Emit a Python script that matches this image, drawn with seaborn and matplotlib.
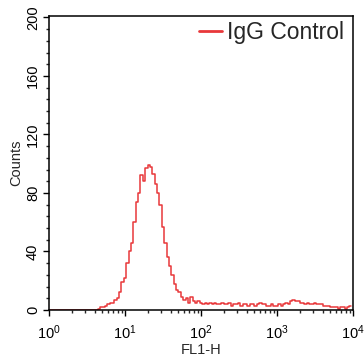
import numpy as np
import pandas as pd
import matplotlib
matplotlib.use("Agg")
import matplotlib.pyplot as plt
from matplotlib.ticker import MultipleLocator, LogLocator, NullFormatter
import seaborn as sns

# ---- data (histogram counts per log channel, 32 channels per decade) ----
channels_per_decade = 32
counts = [
    0, 0, 0, 0, 0, 0, 0, 0, 0, 0,
    0, 0, 0, 0, 0, 0, 0, 0, 0, 0,
    0, 1, 2, 2, 3, 4, 5, 5, 7, 8,
    12, 19, 22, 32, 40, 46, 60, 74, 80, 92,
    88, 97, 99, 98, 93, 86, 80, 72, 57, 46,
    36, 30, 24, 18, 14, 12, 9, 7, 8, 5,
    9, 6, 5, 6, 5, 4, 5, 4, 5, 4,
    5, 4, 4, 5, 4, 4, 5, 3, 4, 4,
    5, 3, 4, 4, 3, 4, 4, 3, 4, 5,
    4, 4, 3, 3, 4, 3, 3, 4, 3, 4,
    5, 4, 6, 7, 6, 6, 5, 5, 4, 5,
    4, 4, 5, 4, 4, 4, 3, 3, 3, 2,
    2, 2, 1, 2, 2, 1, 2, 3,
]
fl1_h = 10 ** (np.arange(len(counts)) / channels_per_decade)
series_label = "IgG Control"
x_label = "FL1-H"
y_label = "Counts"
y_ticks = [0, 40, 80, 120, 160, 200]
x_ticks = [1, 10, 100, 1000, 10000]
x_tick_labels = [r"$10^0$", r"$10^1$", r"$10^2$", r"$10^3$", r"$10^4$"]

df = pd.DataFrame({"FL1-H": fl1_h, "Counts": counts, "series": series_label})

sns.set_style("ticks")
plt.rcParams["font.family"] = ["Liberation Sans", "DejaVu Sans"]
plt.rcParams["mathtext.fontset"] = "custom"
plt.rcParams["mathtext.rm"] = "Liberation Sans"
plt.rcParams["mathtext.it"] = "Liberation Sans"
plt.rcParams["mathtext.default"] = "regular"

fig = plt.figure(figsize=(3.64, 3.64), dpi=100)
ax = fig.add_axes([0.1346, 0.1484, 0.8352, 0.8076])

sns.lineplot(data=df, x="FL1-H", y="Counts", hue="series",
             palette=["#e8383a"], linewidth=1.1, drawstyle="steps-mid",
             ax=ax, legend=True)

ax.set_xscale("log")
ax.set_xlim(1, 10000)
ax.set_ylim(0, 201)
ax.set_xticks(x_ticks)
ax.set_xticklabels(x_tick_labels, fontsize=10.5)
ax.xaxis.set_minor_locator(LogLocator(base=10, subs=np.arange(2, 10)))
ax.xaxis.set_minor_formatter(NullFormatter())
ax.set_yticks(y_ticks)
ax.set_yticklabels([str(v) for v in y_ticks], fontsize=10.5, rotation=90, va="center")
ax.yaxis.set_minor_locator(MultipleLocator(8))

ax.tick_params(which="major", direction="out", length=4.5, width=1.0, colors="black", pad=2)
ax.tick_params(axis="x", which="major", pad=5.5)
ax.tick_params(which="minor", direction="out", length=2.5, width=1.0)
for s in ax.spines.values():
    s.set_linewidth(1.1)
    s.set_color("black")
    s.set_visible(True)

ax.set_xlabel(x_label, fontsize=10.5, labelpad=0.5)
ax.set_ylabel(y_label, fontsize=10.5, labelpad=2)

leg = ax.legend(loc="upper right", bbox_to_anchor=(1.0, 1.015), frameon=False,
                fontsize=16.5, handlelength=1.0, handletextpad=0.2,
                borderaxespad=0.0)
for h in leg.get_lines():
    h.set_linewidth(2)

fig.savefig("out.png", dpi=100)
